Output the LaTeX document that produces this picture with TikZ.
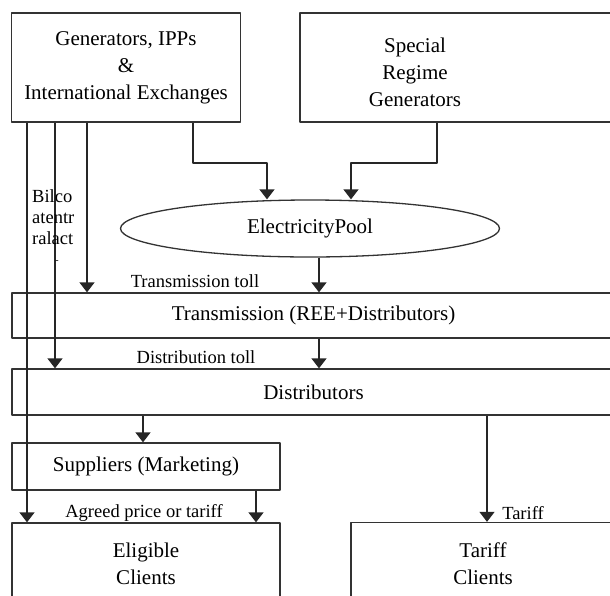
\documentclass[tikz,border=0pt]{standalone}
\usepackage{fontspec}
\setmainfont{Liberation Serif}
\usetikzlibrary{arrows.meta,shapes.geometric}

\tikzset{
  blk/.style={draw=black!80,line width=1.3pt,inner sep=0pt,align=center,
    font=\fontsize{21}{27}\selectfont},
  lbl/.style={inner sep=0pt,font=\fontsize{18.5}{21}\selectfont},
  flow/.style={draw=black!85,line width=1.3pt,-{Triangle[width=15pt,length=10pt]}},
}

\begin{document}
\begin{tikzpicture}[x=1pt,y=-1pt,line join=round]
  \useasboundingbox (0,0) rectangle (610,595);
  % boxes
  \node[blk,minimum width=229pt,minimum height=109pt] (gen) at (126,67.5)
    {Generators, IPPs\\\&\\International Exchanges};
  \node[blk,minimum width=315pt,minimum height=109pt] (spec) at (457.5,67.5) {};
  \node[blk,draw=none] (spectxt) at (415,72) {Special\\Regime\\Generators};
  \node[blk,ellipse,minimum width=379pt,minimum height=57pt] (pool) at (310,228.5)
    {ElectricityPool};
  \node[blk,minimum width=603pt,minimum height=45pt] (trans) at (313.5,315.5)
    {Transmission (REE+Distributors)};
  \node[blk,minimum width=603pt,minimum height=46pt] (dist) at (313.5,392)
    {Distributors};
  \node[blk,minimum width=268pt,minimum height=47pt] (sup) at (146,466.5)
    {Suppliers (Marketing)};
  \node[blk,minimum width=268pt,minimum height=82pt] (elig) at (146,564)
    {Eligible\\Clients};
  \node[blk,minimum width=264pt,minimum height=82pt] (tar) at (483,563.5)
    {Tariff\\Clients};
  % columns of the connectors
  \coordinate (bil) at (27,0);
  \coordinate (dst) at (55,0);
  \coordinate (trn) at (87,0);
  \coordinate (gbend) at (193,163);
  \coordinate (pl) at (267,163);
  \coordinate (pr) at (351,163);
  \coordinate (sbend) at (437,163);
  \coordinate (pt) at (319,0);
  \coordinate (sp) at (143,0);
  \coordinate (tf) at (487,0);
  \coordinate (ag) at (256,0);
  % connectors
  \draw[flow] (gen.south -| gbend) -- (gbend) -- (pl) -- (pool.north -| pl);
  \draw[flow] (spec.south -| sbend) -- (sbend) -- (pr) -- (pool.north -| pr);
  \draw[flow] (pool.south -| pt) -- (trans.north -| pt);
  \draw[flow] (trans.south -| pt) -- (dist.north -| pt);
  \draw[flow] (gen.south -| trn) -- (trans.north -| trn);
  \draw[flow] (gen.south -| dst) -- (dist.north -| dst);
  \draw[flow] (gen.south -| bil) -- (elig.north -| bil);
  \draw[flow] (dist.south -| sp) -- (sup.north -| sp);
  \draw[flow] (dist.south -| tf) -- (tar.north -| tf);
  \draw[flow] (sup.south -| ag) -- (elig.north -| ag);
  % labels
  \node[lbl,align=left,anchor=north west] (bilat) at (32,189) {Bilco\\atentr\\ralact};
  \node[lbl,font=\fontsize{10}{12}\selectfont] (dash) at (57,262) {-};
  \node[lbl] (ttoll) at (195,281) {Transmission toll};
  \node[lbl] (dtoll) at (196,357) {Distribution toll};
  \node[lbl] (agreed) at (144,513) {Agreed price or tariff};
  \node[lbl] (tariff) at (523,513) {Tariff};
\end{tikzpicture}
\end{document}
